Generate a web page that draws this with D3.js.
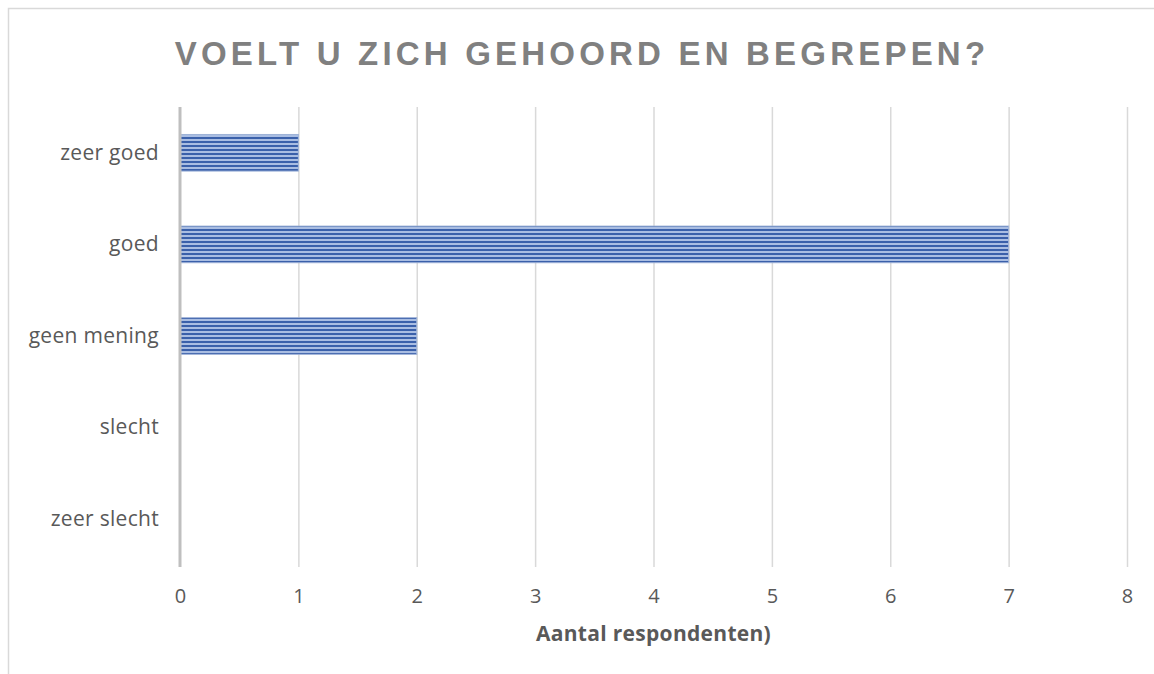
<!DOCTYPE html>
<html>
<head>
<meta charset="utf-8">
<script src="https://cdn.jsdelivr.net/npm/d3@7"></script>
<style>
  body { margin: 0; background: #fff; }
  text { font-family: "Open Sans", "Noto Sans", sans-serif; }
</style>
</head>
<body>
<div id="chart"></div>
<script>
const categories = ['zeer goed', 'goed', 'geen mening', 'slecht', 'zeer slecht'];
const counts = [1, 7, 2, 0, 0];
const xTicks = [0, 1, 2, 3, 4, 5, 6, 7, 8];
const chartTitle = 'VOELT U ZICH GEHOORD EN BEGREPEN?';
const xTitle = 'Aantal respondenten)';

const width = 1154;
const height = 674;

const svg = d3.select('#chart')
    .append('svg')
    .attr('width', width)
    .attr('height', height);

// outer chart frame (right and bottom run off the page)
svg.append('rect')
    .attr('x', 8.5).attr('y', 8.5)
    .attr('width', width + 20).attr('height', height + 20)
    .style('fill', 'white')
    .style('stroke', '#d9d9d9')
    .style('stroke-width', 1.5);

// striped fill for bars
const defs = svg.append('defs');
const pat = defs.append('pattern')
    .attr('id', 'stripes')
    .attr('patternUnits', 'userSpaceOnUse')
    .attr('width', 8).attr('height', 4);
pat.append('rect').attr('width', 8).attr('height', 4).style('fill', '#a9bde2');
pat.append('rect').attr('y', 1).attr('width', 8).attr('height', 2).style('fill', '#3a60aa');

const area = { left: 180, right: 1127, top: 107, bottom: 565 };

const xScale = d3.scaleLinear()
    .domain([0, 8])
    .range([area.left, area.right]);

const yScale = d3.scaleBand()
    .domain(categories)
    .range([area.top, area.bottom])
    .paddingInner(0.6)
    .paddingOuter(0.3);

// vertical gridlines
const xGrid = d3.axisBottom(xScale)
    .tickValues(xTicks.slice(1))
    .tickSize(-(area.bottom - area.top + 2))
    .tickFormat('');
svg.append('g')
    .attr('transform', `translate(0, ${area.bottom + 2})`)
    .call(xGrid)
    .call(g => g.select('.domain').remove())
    .call(g => g.selectAll('line').style('stroke', '#d9d9d9').style('stroke-width', 1.5));

// bars
svg.append('g')
    .selectAll('rect')
    .data(categories.map((c, i) => ({ cat: c, val: counts[i] })).filter(d => d.val > 0))
    .join('rect')
    .attr('x', xScale(0))
    .attr('y', d => yScale(d.cat))
    .attr('width', d => xScale(d.val) - xScale(0))
    .attr('height', yScale.bandwidth())
    .style('fill', 'url(#stripes)')
    .style('stroke', '#9fb3d8')
    .style('stroke-width', 1);

// y axis line
svg.append('line')
    .attr('x1', xScale(0)).attr('x2', xScale(0))
    .attr('y1', area.top).attr('y2', area.bottom + 2)
    .style('stroke', '#bfbfbf')
    .style('stroke-width', 3);

// x tick labels
const xAxis = d3.axisBottom(xScale).tickValues(xTicks).tickSize(0).tickPadding(0);
svg.append('g')
    .attr('transform', `translate(0, 603)`)
    .call(xAxis)
    .call(g => g.select('.domain').remove())
    .call(g => g.selectAll('text')
        .attr('dy', 0)
        .attr('y', 0)
        .style('font-family', '"Open Sans", sans-serif')
        .style('font-size', '20px')
        .style('fill', '#595959'));

// y category labels
const yAxis = d3.axisLeft(yScale).tickSize(0).tickPadding(0);
svg.append('g')
    .attr('transform', `translate(${area.left - 21}, 0)`)
    .call(yAxis)
    .call(g => g.select('.domain').remove())
    .call(g => g.selectAll('text')
        .style('font-family', '"Open Sans", sans-serif')
        .style('font-size', '21px')
        .style('letter-spacing', '0.3px')
        .style('fill', '#595959'));

// chart title
svg.append('text')
    .attr('x', 582)
    .attr('y', 65)
    .attr('text-anchor', 'middle')
    .text(chartTitle)
    .style('font-family', '"Liberation Sans", Arial, sans-serif')
    .style('font-weight', 'bold')
    .style('font-size', '33px')
    .style('letter-spacing', '4.2px')
    .style('fill', '#808080');

// x axis title
svg.append('text')
    .attr('x', (area.left + area.right) / 2)
    .attr('y', 641)
    .attr('text-anchor', 'middle')
    .text(xTitle)
    .style('font-family', '"Open Sans", sans-serif')
    .style('font-weight', 'bold')
    .style('font-size', '21px')
    .style('letter-spacing', '0.3px')
    .style('fill', '#595959');
</script>
</body>
</html>
